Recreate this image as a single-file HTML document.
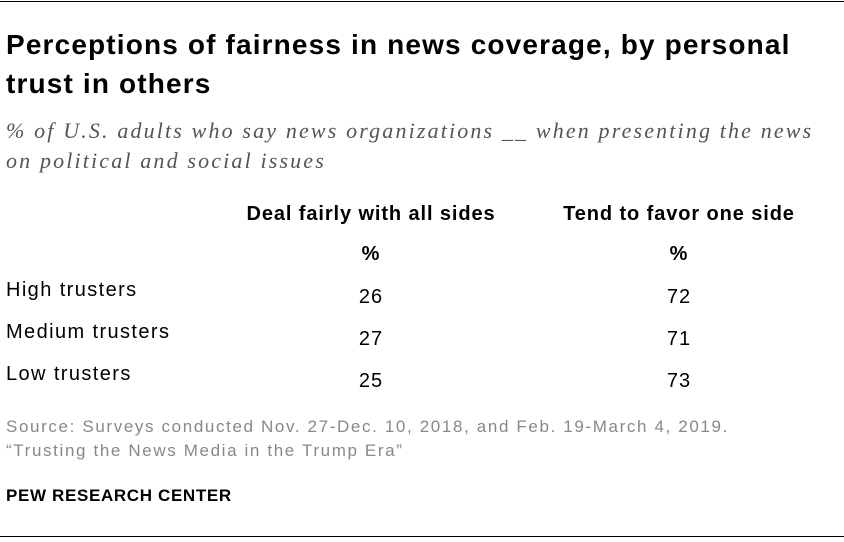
<!DOCTYPE html>
<html><head><meta charset="utf-8"><style>
body{margin:0;background:#fff;}
#c{position:relative;width:844px;height:542px;overflow:hidden;font-family:"Liberation Sans",sans-serif;color:#000;}
.a{position:absolute;white-space:nowrap;}
.t{font-weight:bold;font-size:28px;letter-spacing:1.15px;left:6px;}
.s{font-family:"Liberation Serif",serif;font-style:italic;font-size:22px;letter-spacing:2.15px;color:#555;left:6px;}
.h{font-weight:bold;font-size:20px;letter-spacing:0.9px;transform:translateX(-50%);}
.l{font-size:20px;letter-spacing:1.4px;left:6px;}
.v{font-size:20px;letter-spacing:1px;transform:translateX(-50%);}
.src{font-size:17px;letter-spacing:1.63px;color:#888;left:6px;}
.line{position:absolute;left:0;width:844px;height:1px;background:#000;}
</style></head><body>
<div id="c">
<div class="line" style="top:1px"></div>
<div class="a t" style="top:29px">Perceptions of fairness in news coverage, by personal</div>
<div class="a t" style="top:68px">trust in others</div>
<div class="a s" style="top:118px">% of U.S. adults who say news organizations __ when presenting the news</div>
<div class="a s" style="top:148px">on political and social issues</div>
<div class="a h" style="left:371px;top:203px">Deal fairly with all sides</div>
<div class="a h" style="left:679px;top:203px">Tend to favor one side</div>
<div class="a h" style="left:371px;top:243px">%</div>
<div class="a h" style="left:679px;top:243px">%</div>
<div class="a src" style="top:417px">Source: Surveys conducted Nov. 27-Dec. 10, 2018, and Feb. 19-March 4, 2019.</div>
<div class="a src" style="top:441px">“Trusting the News Media in the Trump Era”</div>
<div class="a" style="left:6px;top:486px;font-weight:bold;font-size:17px;letter-spacing:0.65px">PEW RESEARCH CENTER</div>
<div class="line" style="top:536px"></div>
</div>
<script>
const groups=["High trusters","Medium trusters","Low trusters"];
const fairly=[26,27,25];
const favor=[72,71,73];
const c=document.getElementById('c');
groups.forEach((g,i)=>{
  const y=279+i*42;
  const l=document.createElement('div');l.className='a l';l.style.top=y+'px';l.textContent=g;
  
  
  c.appendChild(l);
  const a=document.createElement('div');a.className='a v';a.style.left='371px';a.style.top=(y+7)+'px';a.textContent=fairly[i];
  
  
  c.appendChild(a);
  const b=document.createElement('div');b.className='a v';b.style.left='679px';b.style.top=(y+7)+'px';b.textContent=favor[i];
  
  
  c.appendChild(b);
});
</script>
</body></html>
